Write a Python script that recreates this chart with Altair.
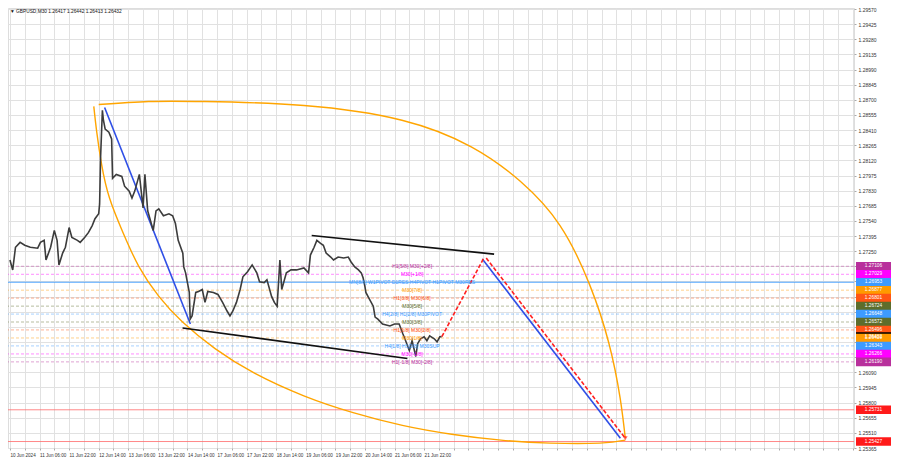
import json
import altair as alt
import pandas as pd

# ---------------- data ----------------
# price path (bar index on M30, close price)
bar_idx = [0, 3, 6, 11, 16, 22, 30, 33, 37, 39, 44, 48, 51, 53, 57, 60, 64, 67, 73, 76,
           81, 85, 89, 92, 96, 97, 98, 100, 101, 103, 107, 110, 111, 115, 121, 124, 129, 132, 135, 140,
           142, 144, 146, 149, 155, 158, 161, 166, 172, 176, 179, 182, 187, 188, 190, 192, 194, 195, 197, 201,
           204, 208, 211, 214, 220, 225, 230, 235, 238, 241, 245, 249, 252, 257, 262, 267, 270, 275, 278, 283,
           286, 289, 292, 294, 299, 304, 310, 318, 323, 325, 329, 332, 336, 339, 342, 347, 350, 355, 361, 366,
           369, 373, 377, 380, 382, 384, 385, 389, 393, 395, 398, 403, 411, 416, 421, 425, 428, 432, 435, 439,
           441, 444, 448, 451, 454, 459, 462, 465, 467]
close = [1.27166, 1.27071, 1.27288, 1.27335, 1.27307, 1.27288, 1.27279, 1.27335, 1.27354, 1.27166,
         1.27288, 1.27449, 1.27354, 1.27119, 1.27232, 1.27288, 1.27477, 1.27383, 1.27354, 1.27335,
         1.27383, 1.27430, 1.27496, 1.27562, 1.27609, 1.27703, 1.28137, 1.28600, 1.28514, 1.28420,
         1.28391, 1.28325, 1.27948, 1.27986, 1.27967, 1.27873, 1.27826, 1.27760, 1.27826, 1.27986,
         1.27826, 1.27665, 1.27986, 1.27637, 1.27449, 1.27637, 1.27656, 1.27590, 1.27609, 1.27590,
         1.27515, 1.27354, 1.27232, 1.27100, 1.27043, 1.26949, 1.26855, 1.26600, 1.26630, 1.26855,
         1.26864, 1.26883, 1.26760, 1.26864, 1.26855, 1.26836, 1.26760, 1.26675, 1.26630, 1.26675,
         1.26760, 1.26883, 1.27005, 1.27053, 1.27119, 1.27043, 1.26958, 1.26949, 1.26977, 1.26817,
         1.26760, 1.26723, 1.27166, 1.26883, 1.27043, 1.27071, 1.27071, 1.27090, 1.27043, 1.27213,
         1.27288, 1.27354, 1.27326, 1.27307, 1.27232, 1.27194, 1.27166, 1.27194, 1.27185, 1.27194,
         1.27147, 1.27100, 1.27071, 1.27043, 1.26996, 1.26911, 1.26855, 1.26789, 1.26723, 1.26619,
         1.26600, 1.26553, 1.26534, 1.26553, 1.26553, 1.26459, 1.26393, 1.26299, 1.26393, 1.26242,
         1.26364, 1.26411, 1.26430, 1.26393, 1.26440, 1.26411, 1.26382, 1.26430, 1.26432]
assert len(bar_idx) == len(close)

# Murrey-style levels
level_price = [1.27106, 1.27029, 1.26953, 1.26877, 1.26801, 1.26724, 1.26648,
               1.26572, 1.26496, 1.26419, 1.26343, 1.26266, 1.26190]
level_text = ["H1[5/8] M30[+2/8]", "M30[+1/8]",
              "MN[8/8] W1PIVOT D1RES H4PIVOT H1PIVOT M30RES", "M30[7/8]",
              "H1[3/8] M30[6/8]", "M30[5/8]", "H4[2/8] H1[2/8] M30PIVOT", "M30[3/8]",
              "H1[1/8] M30[2/8]", "M30[1/8]", "H4[1/8] H1[0/8] M30SUP", "M30[-1/8]",
              "H1[-1/8] M30[-2/8]"]
level_color = ["#b8309c", "#ff00ff", "#3d9bff", "#ff9a00", "#ff5514", "#5d6d2b", "#3d9bff",
               "#5d6d2b", "#ff5514", "#ff9a00", "#3d9bff", "#ff00ff", "#b8309c"]
level_solid = [False, False, True, False, False, False, False,
               False, False, False, False, False, False]

red_levels = [1.25731, 1.25427]
current_price = 1.26432

# drawn objects (bar index, price)
blue_fall_x = [102.4, 195.2]
blue_fall_p = [1.28627, 1.26553]
black_top_x = [326.4, 523.7]
black_top_p = [1.27401, 1.27222]
black_low_x = [186.7, 429.9]
black_low_p = [1.26515, 1.26223]
blue_proj_x = [511.0, 660.3]
blue_proj_p = [1.27175, 1.25459]
red_up_x = [467.2, 513.1]
red_up_p = [1.26432, 1.27194]
red_down_x = [515.2, 665.6]
red_down_p = [1.27185, 1.25459]

upper_arc_x = [96.0, 150.0, 211.0, 318.0, 424.0, 499.0, 552.0, 595.0, 627.0, 648.0,
               660.0, 665.6]
upper_arc_p = [1.28655, 1.28684, 1.28684, 1.28646, 1.28505, 1.28250, 1.27920, 1.27496,
               1.26930, 1.26364, 1.25846, 1.25459]
lower_arc_x = [90.7, 93.9, 99.2, 107.7, 122.7, 139.7, 161.1, 186.7, 221.9, 264.5,
               317.9, 371.2, 424.5, 477.9, 531.2, 584.5, 637.9, 665.6]
lower_arc_p = [1.28637, 1.28391, 1.28080, 1.27760, 1.27420, 1.27100, 1.26817, 1.26572,
               1.26317, 1.26082, 1.25865, 1.25704, 1.25582, 1.25497, 1.25440, 1.25412,
               1.25412, 1.25440]

y_ticks = [1.29570, 1.29425, 1.29280, 1.29135, 1.28990, 1.28845, 1.28700, 1.28555,
           1.28410, 1.28265, 1.28120, 1.27975, 1.27830, 1.27685, 1.27540, 1.27395,
           1.27250, 1.27105, 1.26960, 1.26815, 1.26670, 1.26525, 1.26380, 1.26235,
           1.26090, 1.25945, 1.25800, 1.25655, 1.25510, 1.25365]
x_tick_labels = ["10 Jun 2024", "11 Jun 06:00", "11 Jun 22:00", "12 Jun 14:00",
                 "13 Jun 06:00", "13 Jun 22:00", "14 Jun 14:00", "17 Jun 06:00",
                 "17 Jun 22:00", "18 Jun 14:00", "19 Jun 06:00", "19 Jun 22:00",
                 "20 Jun 14:00", "21 Jun 06:00", "21 Jun 22:00"]
title_text = "\u25BC GBPUSD,M30  1.26417 1.26442 1.26413 1.26432"

# ---------------- layout ----------------
W, H = 846, 440
FONT = "Liberation Sans"
xs = alt.Scale(domain=[-2.1, 913], nice=False, zero=False)
ys = alt.Scale(domain=[1.25365, 1.2958], nice=False, zero=False)

x_grid_vals = list(range(0, 913, 16))
x_label_expr = ("(datum.value % 32 == 0 && datum.value <= 448) ? "
                + json.dumps(x_tick_labels) + "[datum.value / 32] : ''")
x_axis = alt.Axis(values=x_grid_vals, grid=True, gridColor="#e1e1e1", gridWidth=1,
                  labelExpr=x_label_expr, labelFontSize=4.6, labelColor="#333",
                  labelAlign="left", labelPadding=2, tickSize=2, tickColor="#aaa",
                  domain=False, title=None, labelOverlap=False, labelFlush=False,
                  labelBound=False, labelFont=FONT)
y_axis = alt.Axis(orient="right", values=y_ticks, grid=True, gridColor="#e1e1e1",
                  gridWidth=1,
                  labelExpr="(datum.value < 1.2718 && datum.value > 1.2615) ? '' : format(datum.value, '.5f')",
                  labelFontSize=5, labelColor="#333", tickSize=2, tickColor="#aaa",
                  labelPadding=2, domain=False, title=None, labelOverlap=False,
                  labelFont=FONT)

X = lambda f="i": alt.X(f"{f}:Q", scale=xs, axis=x_axis)
Y = lambda f="p": alt.Y(f"{f}:Q", scale=ys, axis=y_axis)

# ---------------- frames ----------------
price_df = pd.DataFrame({"i": bar_idx, "p": close})
lev_df = pd.DataFrame({"p": level_price, "t": level_text, "c": level_color,
                       "solid": level_solid, "lx": [435] * len(level_price)})
red_df = pd.DataFrame({"p": red_levels})


def seg_df(name, xs_, ps_, color):
    return pd.DataFrame({"seg": name, "i": xs_, "p": ps_, "o": list(range(len(xs_))),
                         "c": color})


solid_segs = pd.concat([
    seg_df("bf", blue_fall_x, blue_fall_p, "#2f4fe6"),
    seg_df("bt", black_top_x, black_top_p, "#111111"),
    seg_df("bl", black_low_x, black_low_p, "#111111"),
    seg_df("bp", blue_proj_x, blue_proj_p, "#2f4fe6"),
])
dash_segs = pd.concat([
    seg_df("ru", red_up_x, red_up_p, "#ff2020"),
    seg_df("rd", red_down_x, red_down_p, "#ff2020"),
])
arcs = pd.concat([
    seg_df("ua", upper_arc_x, upper_arc_p, "#ffa500"),
    seg_df("la", lower_arc_x, lower_arc_p, "#ffa500"),
])
end_pt = pd.DataFrame({"i": [red_down_x[-1]], "p": [red_down_p[-1]]})

# boxes on the price scale
box_p, box_t, box_c = [], [], []
for p, c in zip(level_price, level_color):
    if abs(p - 1.26419) < 1e-6:
        box_p.append(current_price); box_t.append(f"{current_price:.5f}"); box_c.append("#000000")
    box_p.append(p); box_t.append(f"{p:.5f}"); box_c.append(c)
for p in red_levels:
    box_p.append(p); box_t.append(f"{p:.5f}"); box_c.append("#ff1a1a")
box_df = pd.DataFrame({"p": box_p, "t": box_t, "c": box_c, "o": list(range(len(box_p)))})
title_df = pd.DataFrame({"t": [title_text]})

# ---------------- layers ----------------
base_axes = alt.Chart(price_df).mark_line(opacity=0).encode(x=X(), y=Y())

lev_dashed = alt.Chart(lev_df).transform_filter("!datum.solid").mark_rule(
    strokeDash=[3, 2], strokeWidth=1, opacity=0.45).encode(
    y=Y(), color=alt.Color("c:N", scale=None))
lev_solid = alt.Chart(lev_df).transform_filter("datum.solid").mark_rule(
    strokeWidth=1, opacity=0.9).encode(
    y=Y(), color=alt.Color("c:N", scale=None))
red_lines = alt.Chart(red_df).mark_rule(color="#ff6a6a", strokeWidth=1, opacity=0.8).encode(y=Y())

arc_layer = alt.Chart(arcs).mark_line(interpolate="natural", strokeWidth=1.4).encode(
    x=X(), y=Y(), order="o:Q", detail="seg:N", color=alt.Color("c:N", scale=None))
solid_layer = alt.Chart(solid_segs).mark_line(strokeWidth=1.6).encode(
    x=X(), y=Y(), order="o:Q", detail="seg:N", color=alt.Color("c:N", scale=None))
dash_layer = alt.Chart(dash_segs).mark_line(strokeWidth=1.6, strokeDash=[4, 2]).encode(
    x=X(), y=Y(), order="o:Q", detail="seg:N", color=alt.Color("c:N", scale=None))
end_layer = alt.Chart(end_pt).mark_point(shape="triangle-down", filled=True, size=22,
                                         color="#ff2020").encode(x=X(), y=Y())

price_layer = alt.Chart(price_df).mark_line(color="#3c3c3c", strokeWidth=1.6).encode(
    x=X(), y=Y())

lev_text = alt.Chart(lev_df).mark_text(fontSize=5, font=FONT, baseline="middle",
                                       align="center").encode(
    x=X("lx"), y=Y(), text="t:N", color=alt.Color("c:N", scale=None))

title_layer = alt.Chart(title_df).mark_text(fontSize=4.8, font=FONT, align="left",
                                            baseline="top", color="#111").encode(
    x=alt.value(2), y=alt.value(1), text="t:N")

box_rect = alt.Chart(box_df).transform_calculate(
    top="datum.p + 0.00041", bot="datum.p - 0.00041").mark_rect().encode(
    x=alt.value(W + 2), x2=alt.value(W + 37), y=Y("top"), y2=alt.Y2("bot:Q"),
    color=alt.Color("c:N", scale=None), order="o:Q")
box_text = alt.Chart(box_df).mark_text(fontSize=4.8, font=FONT, color="white",
                                       align="center", baseline="middle").encode(
    x=alt.value(W + 19.5), y=Y(), text="t:N")

chart = alt.layer(
    base_axes, lev_dashed, lev_solid, red_lines, arc_layer, solid_layer,
    price_layer, dash_layer, end_layer, lev_text, title_layer, box_rect, box_text,
).properties(
    width=W, height=H,
    autosize=alt.AutoSizeParams(type="none"),
    padding={"left": 0, "top": 0, "right": 38, "bottom": 12},
    background="white",
).configure_view(stroke="#8a8a8a", strokeWidth=1).configure(font=FONT)

chart.save("out.html", embed_options={"renderer": "svg", "actions": False})
